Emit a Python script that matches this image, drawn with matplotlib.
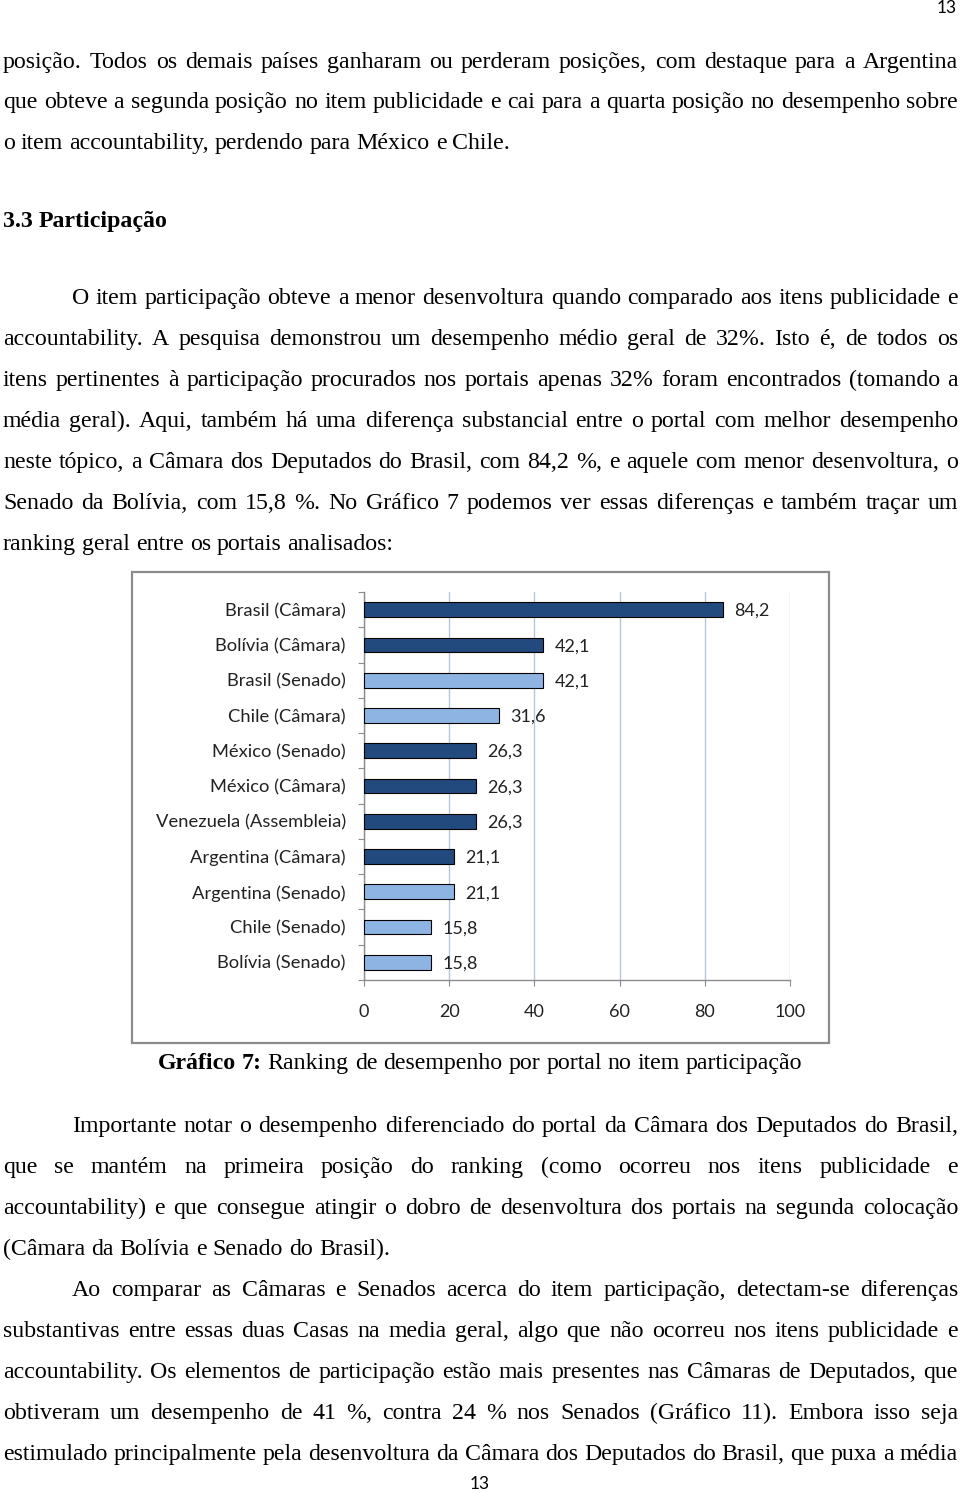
import matplotlib
matplotlib.use("Agg")
import matplotlib.pyplot as plt
import matplotlib.patches as mpatches
import numpy as np

# chart data (Gráfico 7)
portais = ["Brasil (Câmara)", "Bolívia (Câmara)", "Brasil (Senado)", "Chile (Câmara)",
           "México (Senado)", "México (Câmara)", "Venezuela (Assembleia)",
           "Argentina (Câmara)", "Argentina (Senado)", "Chile (Senado)", "Bolívia (Senado)"]
valores = [84.2, 42.1, 42.1, 31.6, 26.3, 26.3, 26.3, 21.1, 21.1, 15.8, 15.8]
casa = ["camara", "camara", "senado", "senado", "camara", "camara", "camara",
        "camara", "senado", "senado", "senado"]
xticks = [0, 20, 40, 60, 80, 100]

W, H = 960, 1493
fig = plt.figure(figsize=(W / 100, H / 100), dpi=100)
fig.patch.set_facecolor("white")
r = fig.canvas.get_renderer()

SERIF = ["Liberation Serif", "DejaVu Serif"]
SANS = ["Lato", "DejaVu Sans"]
FS = 17.2


def fy(y):
    return 1 - y / H


def words_line(y, text, x0=3, x1=958, justify=True, size=FS, bold=0, center=None):
    # bold = number of leading words drawn in bold
    words = text.split()
    ts = []
    for i, w in enumerate(words):
        t = fig.text(0, 0, w, family=SERIF, fontsize=size, va="baseline",
                     weight="bold" if i < bold else "normal")
        ts.append(t)
    ws = [t.get_window_extent(r).width for t in ts]
    a = fig.text(0, 0, "a a", family=SERIF, fontsize=size)
    b = fig.text(0, 0, "aa", family=SERIF, fontsize=size)
    sp = a.get_window_extent(r).width - b.get_window_extent(r).width
    a.remove(); b.remove()
    if justify and len(ws) > 1:
        gap = (x1 - x0 - sum(ws)) / (len(ws) - 1)
    else:
        gap = sp
    if center is not None:
        x0 = center - (sum(ws) + gap * (len(ws) - 1)) / 2
    x = x0
    for t, w in zip(ts, ws):
        t.set_position((x / W, fy(y + 6)))
        x += w + gap


fig.text(947 / W, fy(8), "13", family=SANS, fontsize=12.5, ha="center", va="center")

words_line(62, "posição. Todos os demais países ganharam ou perderam posições, com destaque para a Argentina")
words_line(102, "que obteve a segunda posição no item publicidade e cai para a quarta posição no desempenho sobre")
words_line(143, "o item accountability, perdendo para México e Chile.", justify=False)
words_line(221, "3.3 Participação", justify=False, bold=2)
words_line(298, "O item participação obteve a menor desenvoltura quando comparado aos itens publicidade e", x0=72)
words_line(339, "accountability. A pesquisa demonstrou um desempenho médio geral de 32%. Isto é, de todos os")
words_line(380, "itens pertinentes à participação procurados nos portais apenas 32% foram encontrados (tomando a")
words_line(421, "média geral). Aqui, também há uma diferença substancial entre o portal com melhor desempenho")
words_line(462, "neste tópico, a Câmara dos Deputados do Brasil, com 84,2 %, e aquele com menor desenvoltura, o")
words_line(503, "Senado da Bolívia, com 15,8 %. No Gráfico 7 podemos ver essas diferenças e também traçar um")
words_line(544, "ranking geral entre os portais analisados:", justify=False)

words_line(1063, "Gráfico 7: Ranking de desempenho por portal no item participação",
           justify=False, bold=2, center=480)

words_line(1126, "Importante notar o desempenho diferenciado do portal da Câmara dos Deputados do Brasil,", x0=72)
words_line(1167, "que se mantém na primeira posição do ranking (como ocorreu nos itens publicidade e")
words_line(1208, "accountability) e que consegue atingir o dobro de desenvoltura dos portais na segunda colocação")
words_line(1249, "(Câmara da Bolívia e Senado do Brasil).", justify=False)
words_line(1290, "Ao comparar as Câmaras e Senados acerca do item participação, detectam-se diferenças", x0=72)
words_line(1331, "substantivas entre essas duas Casas na media geral, algo que não ocorreu nos itens publicidade e")
words_line(1372, "accountability. Os elementos de participação estão mais presentes nas Câmaras de Deputados, que")
words_line(1413, "obtiveram um desempenho de 41 %, contra 24 % nos Senados (Gráfico 11). Embora isso seja")
words_line(1454, "estimulado principalmente pela desenvoltura da Câmara dos Deputados do Brasil, que puxa a média")
fig.text(480 / W, fy(1484), "13", family=SANS, fontsize=12.5, ha="center", va="center")

# chart frame
fig.patches.append(mpatches.Rectangle((132 / W, fy(1043)), (829 - 132) / W, (1043 - 572) / H,
                                      transform=fig.transFigure, fill=False,
                                      edgecolor="#8c8c8c", linewidth=1.6))

ax = fig.add_axes([364 / W, fy(980), (790 - 364) / W, (980 - 592) / H])
cores = {"camara": "#224A7E", "senado": "#8DB4E2"}
pos = np.arange(len(portais))
ax.barh(pos, valores, height=0.42, color=[cores[c] for c in casa],
        edgecolor="black", linewidth=0.8, zorder=3)
for p, v in zip(pos, valores):
    ax.annotate(f"{v:.1f}".replace(".", ","), (v, p), xytext=(8, -1), textcoords="offset points",
                va="center", ha="left", family=SANS, fontsize=13, color="#222222")

ax.set_xlim(0, 100)
ax.set_ylim(len(portais) - 0.5, -0.5)
ax.set_xticks(xticks)
ax.set_xticklabels([str(t) for t in xticks], family=SANS, fontsize=13, color="#222222")
ax.set_yticks(np.arange(len(portais) + 1) - 0.5)
ax.set_yticklabels([])
ax.set_yticks(pos, minor=True)
ax.set_yticklabels(portais, minor=True, family=SANS, fontsize=13.2, color="#222222")
ax.tick_params(axis="y", which="major", direction="out", length=4, color="#8c8c8c")
ax.tick_params(axis="y", which="minor", length=0, pad=13)
ax.tick_params(axis="x", direction="out", length=4, color="#8c8c8c", pad=13)
ax.grid(axis="x", color="#B3C6DA", linewidth=1.0, zorder=0)
ax.set_axisbelow(True)
for s in ["top", "right"]:
    ax.spines[s].set_visible(False)
for s in ["left", "bottom"]:
    ax.spines[s].set_color("#8c8c8c")
    ax.spines[s].set_linewidth(1.0)

fig.savefig("out.png", dpi=100, facecolor="white")
